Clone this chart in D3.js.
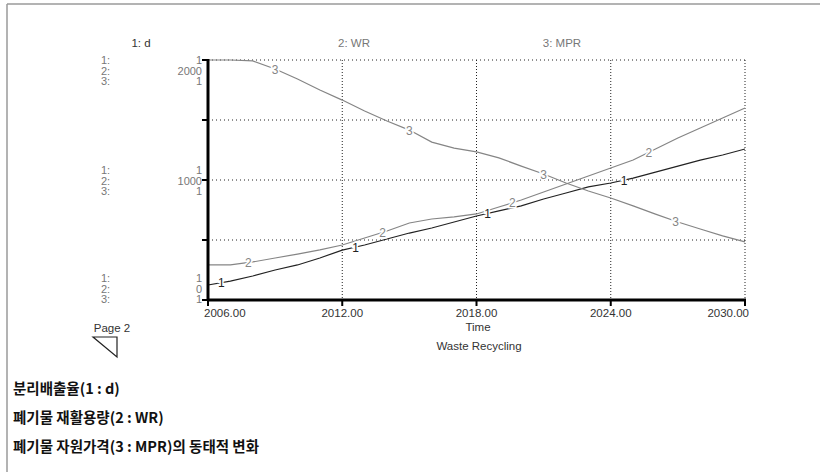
<!DOCTYPE html>
<html><head><meta charset="utf-8">
<script src="https://cdn.jsdelivr.net/npm/d3@7"></script>
<style>
body{margin:0;background:#fff;}
svg{display:block;}
svg text{font-family:"Liberation Sans","Arimo",Arial,sans-serif;}
svg text.kr{font-family:"Noto Sans CJK KR","Noto Sans",sans-serif;}
</style></head>
<body><svg id="c" width="820" height="472"></svg>
<script>
const years = d3.range(2006, 2031);
// 1: d (separation/discharge rate), normalized on its own axis
const seriesD = [0.0625,0.079,0.1,0.125,0.146,0.175,0.208,0.229,0.254,0.279,0.3,0.325,0.35,0.371,0.392,0.421,0.446,0.471,0.4875,0.508,0.533,0.558,0.583,0.604,0.629];
// 2: WR (waste recycling amount), axis 0..2000
const seriesWR = [292,292,317,350,383,417,458,517,575,642,675,692,717,775,833,900,967,1033,1100,1167,1258,1350,1433,1517,1600];
// 3: MPR (material price), normalized on its own axis
const seriesMPR = [1,1,0.996,0.9625,0.921,0.875,0.833,0.7875,0.746,0.708,0.658,0.633,0.617,0.592,0.558,0.525,0.4875,0.454,0.425,0.392,0.358,0.325,0.296,0.267,0.242];
const seriesNames = ["1: d","2: WR","3: MPR"];
const labelYears = [[2006.6,2012.6,2018.5,2024.6],[2007.8,2013.8,2019.6,2025.7],[2009.0,2015.0,2021.0,2026.9]];
const xTicks = [2006,2012,2018,2024,2030];
const xTickLabels = ["2006.00","2012.00","2018.00","2024.00","2030.00"];
const yTickLabels = [["1","2000","1"],["1","1000","1"],["1","0","1"]];
const captions = ["분리배출율(1 : d)","폐기물 재활용량(2 : WR)","폐기물 자원가격(3 : MPR)의 동태적 변화"];

const svg = d3.select("#c");
const L=208,R=745,T=60,B=300;
const x = d3.scaleLinear().domain([2006,2030]).range([L,R]);
const yN = d3.scaleLinear().domain([0,1]).range([B,T]);
const yWR = d3.scaleLinear().domain([0,2000]).range([B,T]);

// outer frame (top and left)
svg.append("line").attr("x1",7).attr("x2",820).attr("y1",4).attr("y2",4).attr("stroke","#9a9a9a").attr("stroke-width",1.5);
svg.append("line").attr("x1",7).attr("x2",7).attr("y1",4).attr("y2",472).attr("stroke","#9a9a9a").attr("stroke-width",1.5);

// grid
const gq = [0.25,0.5,0.75,1];
svg.append("g").selectAll("line").data(gq).join("line")
  .attr("x1",L).attr("x2",R).attr("y1",d=>yN(d)).attr("y2",d=>yN(d))
  .attr("stroke","#222").attr("stroke-width",1).attr("stroke-dasharray","1,3");
svg.append("g").selectAll("line").data(xTicks.slice(1)).join("line")
  .attr("x1",d=>x(d)).attr("x2",d=>x(d)).attr("y1",T).attr("y2",B)
  .attr("stroke","#222").attr("stroke-width",1).attr("stroke-dasharray","1,2");

// series
const line = (ys, sc) => d3.line().x((d,i)=>x(years[i])).y(d=>sc(d))(ys);
const sers = [
  {vals:seriesD, sc:yN, col:"#222"},
  {vals:seriesWR, sc:yWR, col:"#858585"},
  {vals:seriesMPR, sc:yN, col:"#858585"}
];
sers.forEach((s,k)=>{
  svg.append("path").attr("d",line(s.vals,s.sc)).attr("fill","none").attr("stroke",s.col).attr("stroke-width",1.2);
});
sers.forEach((s,k)=>{
  labelYears[k].forEach(yr=>{
    const i = Math.floor(yr-2006), f = yr-2006-i;
    const v = s.vals[i] + (s.vals[Math.min(i+1,24)]-s.vals[i])*f;
    svg.append("text").attr("x",x(yr)).attr("y",s.sc(v)+4.5).attr("text-anchor","middle")
      .attr("font-size",12).attr("fill",s.col).attr("stroke","#fff").attr("stroke-width",3)
      .attr("paint-order","stroke").text(String(k+1));
  });
});

// axes
svg.append("line").attr("x1",L).attr("x2",L).attr("y1",T-1).attr("y2",B+1).attr("stroke","#000").attr("stroke-width",3);
svg.append("line").attr("x1",L-1).attr("x2",R+1).attr("y1",B).attr("y2",B).attr("stroke","#000").attr("stroke-width",3);
svg.append("g").selectAll("line").data([0,0.25,0.5,0.75,1]).join("line")
  .attr("x1",L-6).attr("x2",L).attr("y1",d=>yN(d)).attr("y2",d=>yN(d)).attr("stroke","#000").attr("stroke-width",2);
svg.append("g").selectAll("line").data(xTicks).join("line")
  .attr("x1",d=>x(d)).attr("x2",d=>x(d)).attr("y1",B).attr("y2",B+6).attr("stroke","#000").attr("stroke-width",2);

// x tick labels
svg.append("g").selectAll("text").data(xTicks).join("text")
  .attr("x",(d,i)=> i===0 ? x(d)-4 : (i===xTicks.length-1 ? x(d)+4 : x(d)))
  .attr("y",317).attr("font-size",11.5).attr("fill","#333")
  .attr("text-anchor",(d,i)=> i===0?"start":(i===xTicks.length-1?"end":"middle"))
  .text((d,i)=>xTickLabels[i]);

// y labels groups
const groupTop = [64, 174, 282];
[0,1,2].forEach(g=>{
  [0,1,2].forEach(r=>{
    const yy = groupTop[g] + r*10.5;
    svg.append("text").attr("x",101).attr("y",yy).attr("font-size",11).attr("fill","#777").text((r+1)+":");
    svg.append("text").attr("x",202).attr("y",yy).attr("text-anchor","end").attr("font-size",11).attr("fill","#777").text(yTickLabels[g][r]);
  });
});

// headers
const hx=[141,354,562], hc=["#333","#777","#777"];
seriesNames.forEach((n,i)=>{
  svg.append("text").attr("x",hx[i]).attr("y",47).attr("text-anchor","middle").attr("font-size",11.5).attr("fill",hc[i]).text(n);
});

svg.append("text").attr("x",478).attr("y",331).attr("text-anchor","middle").attr("font-size",11.5).attr("fill","#333").text("Time");
svg.append("text").attr("x",479).attr("y",350).attr("text-anchor","middle").attr("font-size",11.5).attr("fill","#333").text("Waste Recycling");

svg.append("text").attr("x",112).attr("y",332).attr("text-anchor","middle").attr("font-size",11.5).attr("fill","#333").text("Page 2");
svg.append("path").attr("d","M93,337 L117,337 L117,357 Z").attr("fill","none").attr("stroke","#222").attr("stroke-width",1.2);

captions.forEach((c,i)=>{
  svg.append("text").attr("class","kr").attr("x",13).attr("y",394+i*29).attr("font-size",14.5).attr("font-weight","bold")
    .attr("fill","#111").text(c);
});
</script></body></html>
